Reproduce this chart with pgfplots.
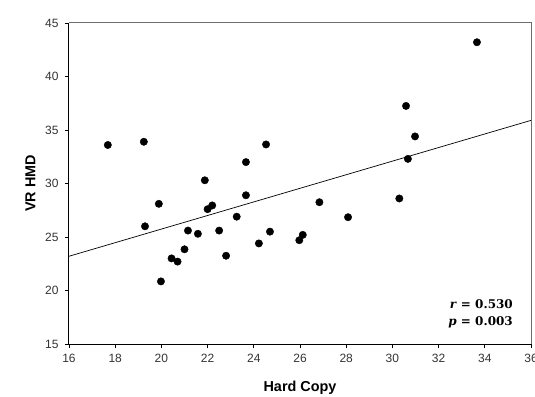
\documentclass[border=0pt]{standalone}
\usepackage{fontspec}
\setmainfont{Liberation Sans}
\newfontfamily\statfont{DejaVu Serif}
\usepackage{pgfplots}
\pgfplotsset{compat=1.18}
\definecolor{tickgray}{HTML}{333333}
\definecolor{framegray}{HTML}{6E6E6E}
\begin{document}
\begin{tikzpicture}
\useasboundingbox (-69pt,-52pt) rectangle (466pt,344pt);
\begin{axis}[
  scale only axis, width=462pt, height=321pt,
  xmin=16, xmax=36, ymin=15, ymax=45,
  xtick={16,18,20,22,24,26,28,30,32,34,36}, ytick={15,20,25,30,35,40,45},
  axis x line*=bottom, axis y line*=left,
  tick align=outside,
  major tick length=4pt,
  tick style={black, line width=0.8pt},
  axis line style={black, line width=1pt},
  /pgf/number format/assume math mode=true,
  ticklabel style={font=\large, text=tickgray},
  xticklabel style={yshift=-3pt},
  yticklabel style={xshift=-3pt},
  xlabel={\bfseries Hard Copy}, ylabel={\bfseries VR HMD},
  label style={font=\Large},
  xlabel shift=11pt, ylabel shift=3pt,
]
\addplot[black, line width=0.7pt, no marks] coordinates {(16,23.2) (36,35.9)};
\addplot[only marks, mark=*, mark size=3.7pt, black] coordinates {
(17.68,33.6) (19.24,33.9) (19.29,26.0) (19.89,28.1) (19.98,20.85)
(20.44,23.0) (20.70,22.7) (21.0,23.85) (21.15,25.6) (21.58,25.3)
(21.88,30.3) (22.0,27.6) (22.2,27.95) (22.5,25.6) (22.8,23.25)
(23.26,26.9) (23.66,32.0) (23.66,28.9) (24.22,24.4) (24.53,33.65)
(24.70,25.5) (25.97,24.7) (26.12,25.2) (26.84,28.25) (28.08,26.85)
(30.3,28.6) (30.59,37.25) (30.67,32.3) (30.98,34.4) (33.66,43.2)
};
\end{axis}
\draw[framegray, line width=1pt] (0pt,321pt) -- (462pt,321pt) -- (462pt,0pt);
\node[anchor=base east, inner sep=0pt, font=\statfont\large\bfseries] at (444pt,35.3pt) {\textit{r} = 0.530};
\node[anchor=base east, inner sep=0pt, font=\statfont\large\bfseries] at (444pt,18.7pt) {\textit{p} = 0.003};
\end{tikzpicture}
\end{document}
